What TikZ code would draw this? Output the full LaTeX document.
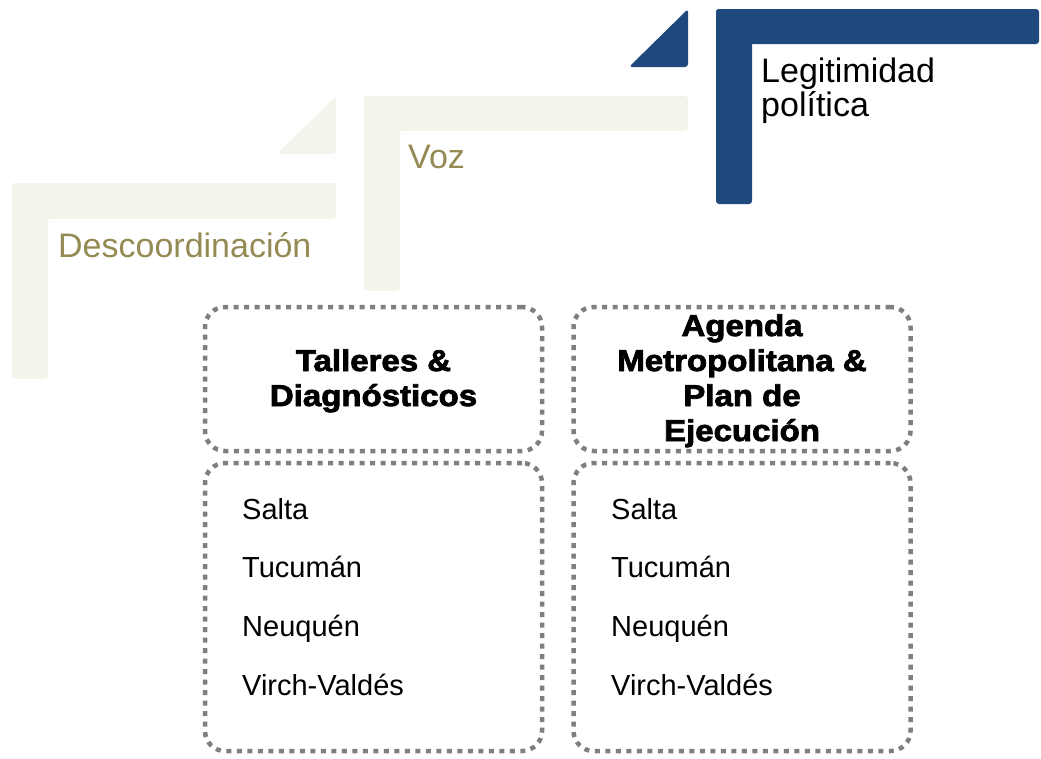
\documentclass[tikz,border=0pt]{standalone}
\usepackage{fontspec}
\setmainfont{Liberation Sans}
\newfontfamily\heavy[FakeStretch=1.1,FakeBold=2.6]{Liberation Sans Bold}
\definecolor{olive}{HTML}{948A54}
\definecolor{lightbg}{HTML}{F4F3EC}
\definecolor{navy}{HTML}{1F497D}
\definecolor{dotgray}{HTML}{7F7F7F}
\begin{document}
\begin{tikzpicture}[x=1pt,y=-1pt,
  lightfill/.style={fill=lightbg,rounded corners=3pt},
  bluefill/.style={fill=navy,rounded corners=3pt},
  dotbox/.style={draw=dotgray,line width=4.5pt,dash pattern=on 5pt off 5.5pt,rounded corners=20pt,minimum width=337pt,inner sep=0pt},
  steplabel/.style={anchor=base west,inner sep=0pt,font=\fontsize{34}{34}\selectfont},
  headtext/.style={anchor=base,inner sep=0pt,font=\heavy\fontsize{30}{30}\selectfont},
  itemtext/.style={anchor=base west,inner sep=0pt,font=\fontsize{29}{29}\selectfont}]
\useasboundingbox (0,0) rectangle (1041,758);
% step 1
\fill[lightfill] (12,183) rectangle (336,219);
\fill[lightfill] (12,183) rectangle (48,379);
\fill[lightfill] (277,154) -- (336,96) -- (336,154) -- cycle;
% step 2
\fill[lightfill] (364,96) rectangle (688,131);
\fill[lightfill] (364,96) rectangle (400,291);
\fill[bluefill] (629,67) -- (688,9) -- (688,67) -- cycle;
% step 3
\fill[bluefill] (716,9) rectangle (1039,44);
\fill[bluefill] (716,9) rectangle (752,204);
% labels
\node[steplabel,text=olive] (desc) at (58,257) {Descoordinación};
\node[steplabel,text=olive] (voz) at (408,168) {Voz};
\node[steplabel] (leg1) at (761,82) {Legitimidad};
\node[steplabel] (leg2) at (761,116) {política};
% boxes
\node[dotbox,minimum height=144pt] (tl) at (373.5,379) {};
\node[dotbox,minimum height=144pt] (tr) at (742,379) {};
\node[dotbox,minimum height=288pt] (bl) at (373.5,607) {};
\node[dotbox,minimum height=288pt] (br) at (742,607) {};
% head texts
\node[headtext] (t1) at (373.5,371) {Talleres \&};
\node[headtext] (t2) at (373.5,406) {Diagnósticos};
\node[headtext] (a1) at (742,336) {Agenda};
\node[headtext] (a2) at (742,371) {Metropolitana \&};
\node[headtext] (a3) at (742,406) {Plan de};
\node[headtext] (a4) at (742,441) {Ejecución};
% items
\foreach \bx/\nm in {242/l,611/r}{
  \node[itemtext] (s\nm) at (\bx,519) {Salta};
  \node[itemtext] (u\nm) at (\bx,577) {Tucumán};
  \node[itemtext] (n\nm) at (\bx,636) {Neuquén};
  \node[itemtext] (v\nm) at (\bx,695) {Virch-Valdés};
}
\end{tikzpicture}
\end{document}
